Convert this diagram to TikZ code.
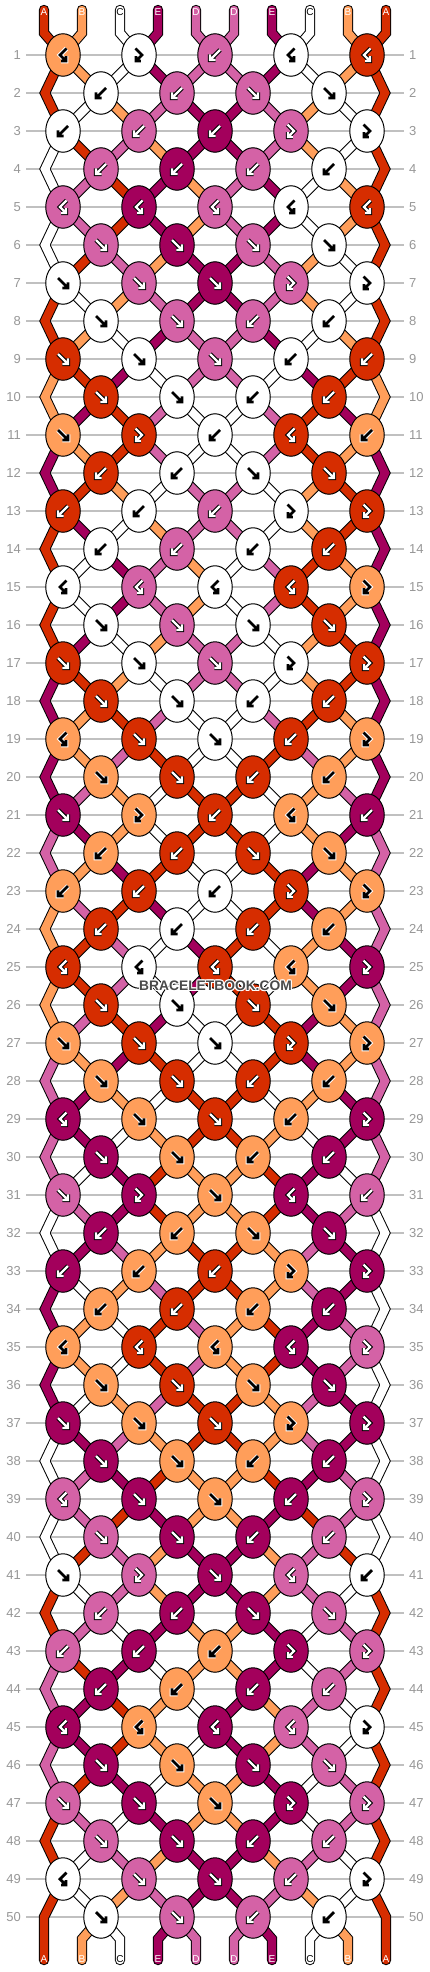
\documentclass[tikz,border=0pt]{standalone}
\usepackage{fontspec}
\setmainfont{Liberation Sans}
\usetikzlibrary{shapes.geometric}
\definecolor{cR}{HTML}{D62D00}
\definecolor{cO}{HTML}{FF9E5A}
\definecolor{cW}{HTML}{FFFFFF}
\definecolor{cM}{HTML}{A3005C}
\definecolor{cP}{HTML}{D462A6}
\definecolor{numgray}{HTML}{979797}
\definecolor{linegray}{HTML}{C0C0C0}
\definecolor{wmgray}{HTML}{4A4A4A}
\pgfdeclarelayer{back}
\pgfdeclarelayer{bg}
\pgfsetlayers{back,bg,main}
\def\isdarkR{1}\def\isdarkM{1}\def\isdarkP{1}\def\isdarkW{0}\def\isdarkO{0}
\def\lblR{white}\def\lblM{white}\def\lblP{white}\def\lblO{white}\def\lblW{black}
\newcommand\arrF[1]{\draw[#1] (-5,-5) -- (5,5) (5,-0.6) -- (5,5) -- (-0.6,5);}
\newcommand\arrB[1]{\draw[#1] (5,-5) -- (-5,5) (-5,-0.6) -- (-5,5) -- (0.6,5);}
\newcommand\arrFB[1]{\draw[#1] (-3.5,-6.5) -- (3,0) -- (-3,6) (-3,1.2) -- (-3,6) -- (1.8,6);}
\newcommand\arrBF[1]{\draw[#1] (3.5,-6.5) -- (-3,0) -- (3,6) (3,1.2) -- (3,6) -- (-1.8,6);}
\newcommand\knotarrow[4]{%
  \begin{scope}[shift={(#1,#2)}, line join=miter, line cap=butt]
  \ifnum\csname isdark#4\endcsname=1
    \csname arr#3\endcsname{black,line width=4.4pt}%
    \csname arr#3\endcsname{white,line width=2.2pt}%
  \else
    \csname arr#3\endcsname{white,line width=4.6pt}%
    \csname arr#3\endcsname{black,line width=2.8pt}%
  \fi
  \end{scope}}
\begin{document}
\begin{tikzpicture}[x=1pt,y=-1pt,
  knot/.style={ellipse, draw=black, line width=1pt, minimum width=34.5pt, minimum height=42.5pt, inner sep=0pt},
  strand/.style={draw=black, line width=1pt, double=#1, double distance=8.4pt, line join=miter},
  rowline/.style={draw=linegray, line width=1.2pt},
  rownum/.style={text=numgray, font=\fontsize{13}{13}\selectfont, inner sep=0pt},
  strlbl/.style={font=\fontsize{10}{10}\selectfont, inner sep=0pt},
  wm/.style={font=\bfseries\fontsize{13.8}{14}\selectfont, inner sep=0pt}]
\path[use as bounding box] (0,0) rectangle (430,1972);

% background, row lines and numbers
\begin{pgfonlayer}{back}
\fill[white] (0,0) rectangle (430,1972);
\foreach \r in {1,...,50} {
  \pgfmathsetmacro\ry{17+38*\r}
  \draw[rowline] (26,\ry) -- (404,\ry);
  \node[rownum, anchor=east] (nl\r) at (21,\ry) {\r};
  \node[rownum, anchor=west] (nr\r) at (409,\ry) {\r};
}
\end{pgfonlayer}

% knots
\foreach \kl [count=\r] in {
 {O/BF,W/FB,P/B,W/BF,R/BF},
 {W/B,P/B,P/F,W/F},
 {W/B,P/B,M/B,P/FB,W/FB},
 {P/B,M/B,P/B,W/B},
 {P/BF,M/BF,P/BF,W/BF,R/BF},
 {P/F,M/F,P/F,W/F},
 {W/F,P/F,M/F,P/FB,W/FB},
 {W/F,P/F,P/B,W/B},
 {R/F,W/F,P/F,W/B,R/B},
 {R/F,W/F,W/B,R/B},
 {O/F,R/FB,W/B,R/BF,O/B},
 {R/B,W/B,W/F,R/F},
 {R/B,W/B,P/B,W/FB,R/FB},
 {W/B,P/B,W/B,R/B},
 {W/BF,P/BF,W/BF,R/BF,O/FB},
 {W/F,P/F,W/F,R/F},
 {R/F,W/F,P/F,W/FB,R/FB},
 {R/F,W/F,W/B,R/B},
 {O/BF,R/F,W/F,R/B,O/FB},
 {O/F,R/F,R/B,O/B},
 {M/F,O/FB,R/B,O/BF,M/B},
 {O/B,R/B,R/F,O/F},
 {O/B,R/B,W/B,R/FB,O/FB},
 {R/B,W/B,R/B,O/B},
 {R/BF,W/BF,R/BF,O/BF,M/FB},
 {R/F,W/F,R/F,O/F},
 {O/F,R/F,W/F,R/FB,O/FB},
 {O/F,R/F,R/B,O/B},
 {M/BF,O/F,R/F,O/B,M/FB},
 {M/F,O/F,O/B,M/B},
 {P/F,M/FB,O/F,M/BF,P/B},
 {M/B,O/B,O/F,M/F},
 {M/B,O/B,R/B,O/FB,M/FB},
 {O/B,R/B,O/B,M/B},
 {O/BF,R/BF,O/BF,M/BF,P/FB},
 {O/F,R/F,O/F,M/F},
 {M/F,O/F,R/F,O/FB,M/FB},
 {M/F,O/F,O/B,M/B},
 {P/BF,M/F,O/F,M/B,P/FB},
 {P/F,M/F,M/B,P/B},
 {W/F,P/FB,M/F,P/BF,W/B},
 {P/B,M/B,M/F,P/F},
 {P/B,M/B,O/B,M/FB,P/FB},
 {M/B,O/B,M/B,P/B},
 {M/BF,O/BF,M/BF,P/BF,W/FB},
 {M/F,O/F,M/F,P/F},
 {P/F,M/F,O/F,M/FB,P/FB},
 {P/F,M/F,M/B,P/B},
 {W/BF,P/F,M/F,P/B,W/FB},
 {W/F,P/F,P/B,W/B}} {
  \pgfmathtruncatemacro\odd{mod(\r,2)}
  \pgfmathsetmacro\ky{17+38*\r}
  \foreach \c/\t [count=\i] in \kl {
    \pgfmathsetmacro\kx{\odd==1 ? 63+76*(\i-1) : 101+76*(\i-1)}
    \node[knot, fill=c\c] (k\r-\i) at (\kx,\ky) {};
    \knotarrow{\kx}{\ky}{\t}{\c}
  }
}

% strands
\begin{pgfonlayer}{bg}
\foreach \st [count=\r from 0] in {
 {R,O,W,M,P,P,M,W,O,R},
 {R,O,W,M,P,P,M,W,O,R},
 {R,W,O,P,M,M,P,O,W,R},
 {W,R,P,O,M,M,P,O,W,R},
 {W,P,R,M,O,P,M,W,O,R},
 {W,P,R,M,O,P,M,W,O,R},
 {W,R,P,O,M,M,P,O,W,R},
 {R,W,O,P,M,M,P,O,W,R},
 {R,O,W,M,P,P,M,W,O,R},
 {O,R,M,W,P,P,W,M,R,O},
 {O,M,R,P,W,W,P,R,M,O},
 {M,O,R,P,W,W,P,R,O,M},
 {M,R,O,W,P,P,W,O,R,M},
 {R,M,W,O,P,P,W,O,R,M},
 {R,W,M,P,O,W,P,R,O,M},
 {R,W,M,P,O,W,P,R,O,M},
 {R,M,W,O,P,P,W,O,R,M},
 {M,R,O,W,P,P,W,O,R,M},
 {M,O,R,P,W,W,P,R,O,M},
 {M,O,P,R,W,W,R,P,O,M},
 {M,P,O,W,R,R,W,O,P,M},
 {P,M,O,W,R,R,W,O,M,P},
 {P,O,M,R,W,W,R,M,O,P},
 {O,P,R,M,W,W,R,M,O,P},
 {O,R,P,W,M,R,W,O,M,P},
 {O,R,P,W,M,R,W,O,M,P},
 {O,P,R,M,W,W,R,M,O,P},
 {P,O,M,R,W,W,R,M,O,P},
 {P,M,O,W,R,R,W,O,M,P},
 {P,M,W,O,R,R,O,W,M,P},
 {P,W,M,R,O,O,R,M,W,P},
 {W,P,M,R,O,O,R,M,P,W},
 {W,M,P,O,R,R,O,P,M,W},
 {M,W,O,P,R,R,O,P,M,W},
 {M,O,W,R,P,O,R,M,P,W},
 {M,O,W,R,P,O,R,M,P,W},
 {M,W,O,P,R,R,O,P,M,W},
 {W,M,P,O,R,R,O,P,M,W},
 {W,P,M,R,O,O,R,M,P,W},
 {W,P,R,M,O,O,M,R,P,W},
 {W,R,P,O,M,M,O,P,R,W},
 {R,W,P,O,M,M,O,P,W,R},
 {R,P,W,M,O,O,M,W,P,R},
 {P,R,M,W,O,O,M,W,P,R},
 {P,M,R,O,W,M,O,P,W,R},
 {P,M,R,O,W,M,O,P,W,R},
 {P,R,M,W,O,O,M,W,P,R},
 {R,P,W,M,O,O,M,W,P,R},
 {R,W,P,O,M,M,O,P,W,R},
 {R,W,O,P,M,M,P,O,W,R},
 {R,O,W,M,P,P,M,W,O,R}} {
  \pgfmathtruncatemacro\rn{\r+1}
  \pgfmathtruncatemacro\rp{\r-1}
  \pgfmathtruncatemacro\odd{mod(\r,2)}
  \pgfmathsetmacro\ry{17+38*\r}
  \foreach \c [count=\p] in \st {
    \pgfmathsetmacro\sx{6+38*\p}
    \pgfmathtruncatemacro\hi{(\p+1)/2}
    \pgfmathtruncatemacro\lo{\p/2}
    \pgfmathtruncatemacro\inner{(\p>1)&&(\p<10)}
    \ifnum\r=0
      \coordinate (top\p) at (\sx,10);
      \draw[strand=c\c, line cap=round] (top\p) -- (\sx,33) -- (k1-\hi.center);
    \else
      \ifnum\r=50
        \ifnum\inner=1
          \coordinate (bot\p) at (\sx,1960);
          \draw[strand=c\c, line cap=round] (k50-\lo.center) -- (\sx,1939) -- (bot\p);
        \else
          \coordinate (bot\p) at (\sx,1960);
          \ifnum\p=1
            \draw[strand=c\c, line cap=round] (k49-1.center) -- (44,1917) -- (bot\p);
          \else
            \draw[strand=c\c, line cap=round] (k49-5.center) -- (386,1917) -- (bot\p);
          \fi
        \fi
      \else
        \ifnum\inner=1
          \ifnum\odd=1
            \draw[strand=c\c] (k\r-\hi.center) -- (k\rn-\lo.center);
          \else
            \draw[strand=c\c] (k\r-\lo.center) -- (k\rn-\hi.center);
          \fi
        \else
          \ifnum\odd=0
            \ifnum\p=1
              \draw[strand=c\c] (k\rp-1.center) -- (45,\ry) -- (k\rn-1.center);
            \else
              \draw[strand=c\c] (k\rp-5.center) -- (385,\ry) -- (k\rn-5.center);
            \fi
          \fi
        \fi
      \fi
    \fi
  }
}
\end{pgfonlayer}

% string labels
\foreach \n/\c [count=\p] in {A/R,B/O,C/W,E/M,D/P,D/P,E/M,C/W,B/O,A/R} {
  \pgfmathsetmacro\sx{6+38*\p}
  \node[strlbl, text=\csname lbl\c\endcsname] (lt\p) at (\sx,12.5) {\n};
  \node[strlbl, text=\csname lbl\c\endcsname] (lb\p) at (\sx,1959.5) {\n};
}

% watermark
\foreach \dx/\dy [count=\h] in {-1/0,1/0,0/-1,0/1,-0.8/-0.8,0.8/0.8,-0.8/0.8,0.8/-0.8} {
  \node[wm, text=white] (wmh\h) at (215.5+\dx,985.5+\dy) {BRACELETBOOK.COM};
}
\node[wm, text=wmgray] (wm) at (215.5,985.5) {BRACELETBOOK.COM};
\end{tikzpicture}
\end{document}
